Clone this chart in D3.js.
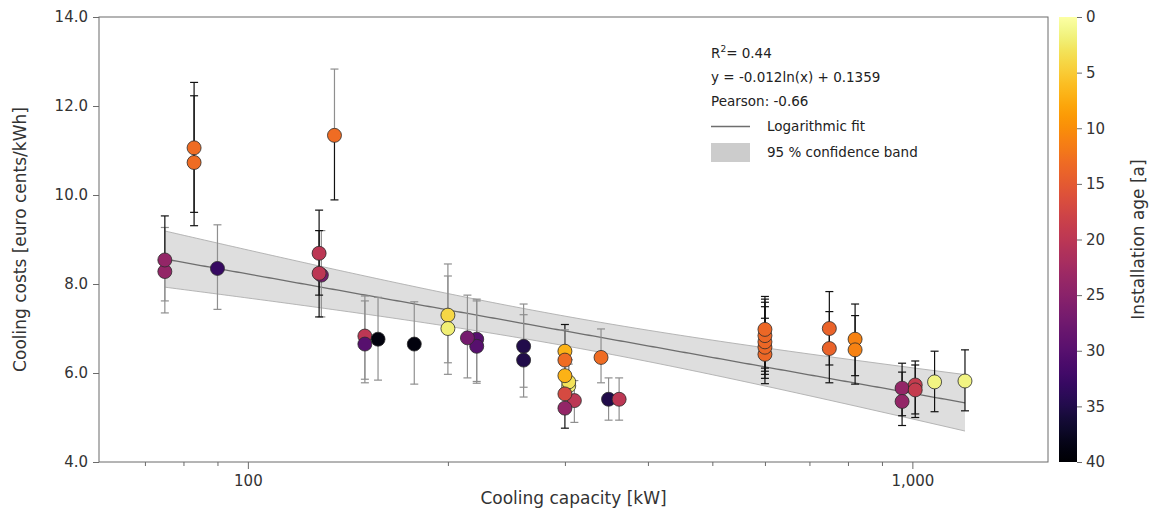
<!DOCTYPE html>
<html>
<head>
<meta charset="utf-8">
<script src="https://cdn.jsdelivr.net/npm/d3@7"></script>
<style>
  html, body { margin: 0; padding: 0; background: #fff; }
  svg { display: block; font-family: "DejaVu Sans", Verdana, sans-serif; }
</style>
</head>
<body>
<svg id="chart" width="1151" height="513"></svg>
<script>
// Cooling capacity of each installation [kW]
const capacity = [75, 75, 83, 83, 90, 129, 128, 128, 135, 150, 150, 157, 178, 200, 200,
  221, 221, 214, 260, 260, 300, 300, 304, 304, 300, 310, 300, 300, 340, 349, 362,
  600, 600, 600, 600, 600, 750, 750, 820, 820, 965, 965, 1010, 1010, 1080, 1200];
// Cooling costs [euro cents/kWh]
const cost = [8.28, 8.54, 11.06, 10.73, 8.35, 8.20, 8.24, 8.69, 11.34, 6.83, 6.65, 6.76, 6.65, 7.30, 7.00,
  6.76, 6.60, 6.79, 6.60, 6.29, 6.49, 6.29, 5.71, 5.80, 5.94, 5.38, 5.53, 5.21, 6.35, 5.41, 5.41,
  6.42, 6.58, 6.70, 6.84, 6.98, 7.00, 6.55, 6.76, 6.52, 5.66, 5.36, 5.73, 5.62, 5.80, 5.82];
// Upper and lower bounds of the cost estimate
const costHigh = [9.27, 9.53, 12.53, 12.23, 9.33, 9.20, 9.20, 9.66, 12.83, 7.73, 7.62, 7.70, 7.60, 8.45, 8.18,
  7.66, 7.62, 7.75, 7.55, 7.31, 7.09, 6.97, 6.20, 6.30, 6.44, 5.83, 6.00, 5.66, 6.99, 5.89, 5.89,
  7.23, 7.49, 7.59, 7.66, 7.72, 7.83, 7.38, 7.55, 7.29, 6.22, 6.02, 6.27, 6.18, 6.49, 6.52];
const costLow = [7.35, 7.62, 9.61, 9.31, 7.43, 7.26, 7.75, 7.26, 9.89, 5.86, 5.78, 5.84, 5.75, 6.23, 5.97,
  5.81, 5.77, 5.89, 5.68, 5.46, 5.90, 5.60, 5.25, 5.30, 5.44, 4.89, 5.08, 4.76, 5.78, 4.94, 4.94,
  5.76, 5.88, 5.97, 6.04, 6.11, 6.18, 5.78, 5.94, 5.75, 5.04, 4.82, 5.08, 5.00, 5.13, 5.15];
// Installation age [a]
const age = [24, 24, 13, 13, 33, 27, 20, 20, 13, 20, 30, 39, 39, 4, 2,
  30, 30, 27, 35, 35, 7, 13, 2, 3, 7, 20, 17, 24, 13, 35, 20,
  13.5, 13.5, 13.5, 13.5, 13.5, 14, 14, 11, 11, 24, 24, 19, 19, 1.5, 1.5];
// Source of the upper / lower bound: "A" = operator data, "B" = literature range
const upperSource = ["B","A","A","A","B","B","A","A","B","B","B","B","B","B","B",
  "B","B","B","B","B","A","B","B","B","B","B","B","B","B","B","B",
  "A","A","A","A","A","A","A","A","A","A","A","A","A","A","A"];
const lowerSource = ["B","B","A","A","B","B","A","A","A","B","B","B","B","B","B",
  "B","B","B","B","B","B","B","B","B","B","B","B","A","B","B","B",
  "A","A","A","A","A","A","A","A","A","A","A","A","A","A","A"];

// Logarithmic fit y = a*ln(x) + b in euro/kWh, and its statistics
const fitSlope = -0.01165;
const fitIntercept = 0.1359;
const rSquared = 0.44;
const pearson = -0.66;
// 95 % band half width (cents): sqrt(bandBase + bandSpread * (ln x - bandCenter)^2)
const bandBase = 0.111, bandSpread = 0.1505, bandCenter = 5.70;

const yTicks = [4, 6, 8, 10, 12, 14];
const xMajorTicks = [100, 1000];
const xMinorTicks = [70, 80, 90, 200, 300, 400, 500, 600, 700, 800, 900];
const ageTicks = [0, 5, 10, 15, 20, 25, 30, 35, 40];

const svg = d3.select("#chart");
const m = { left: 99, right: 1048, top: 17, bottom: 462 };

const x = d3.scaleLog().domain([59.7, 1600]).range([m.left, m.right]);
const y = d3.scaleLinear().domain([4, 14]).range([m.bottom, m.top]);
const color = a => d3.interpolateInferno(1 - a / 40);
const axisColor = "#6b6b6b", textColor = "#333";

// confidence band and fit line
const xMin = d3.min(capacity), xMax = d3.max(capacity);
const samples = d3.range(0, 201).map(i => Math.exp(Math.log(xMin) + (Math.log(xMax) - Math.log(xMin)) * i / 200));
const fitCents = v => 100 * (fitSlope * Math.log(v) + fitIntercept);
const halfWidth = v => Math.sqrt(bandBase + bandSpread * Math.pow(Math.log(v) - bandCenter, 2));

svg.append("path")
  .datum(samples)
  .attr("d", d3.area().x(d => x(d)).y0(d => y(fitCents(d) - halfWidth(d))).y1(d => y(fitCents(d) + halfWidth(d))))
  .attr("fill", "#dedede");
["lower", "upper"].forEach(side => {
  const s = side === "upper" ? 1 : -1;
  svg.append("path")
    .datum(samples)
    .attr("d", d3.line().x(d => x(d)).y(d => y(fitCents(d) + s * halfWidth(d))))
    .attr("fill", "none").attr("stroke", "#b5b5b5").attr("stroke-width", 1);
});
svg.append("path")
  .datum(samples)
  .attr("d", d3.line().x(d => x(d)).y(d => y(fitCents(d))))
  .attr("fill", "none").attr("stroke", "#6e6e6e").attr("stroke-width", 1.3);

// error bars
const idx = d3.range(capacity.length);
const barColor = src => src === "A" ? "#111" : "#8f8f8f";
const capW = 4;
const bars = svg.append("g");
idx.forEach(i => {
  const cx = x(capacity[i]);
  const parts = [
    { y0: y(cost[i]), y1: y(costHigh[i]), c: barColor(upperSource[i]) },
    { y0: y(cost[i]), y1: y(costLow[i]), c: barColor(lowerSource[i]) }
  ];
  parts.forEach(p => {
    bars.append("line").attr("x1", cx).attr("x2", cx).attr("y1", p.y0).attr("y2", p.y1)
      .attr("stroke", p.c).attr("stroke-width", 1.2);
    bars.append("line").attr("x1", cx - capW).attr("x2", cx + capW).attr("y1", p.y1).attr("y2", p.y1)
      .attr("stroke", p.c).attr("stroke-width", 1.2);
  });
});

// points
svg.append("g").selectAll("circle").data(idx).join("circle")
  .attr("cx", i => x(capacity[i]))
  .attr("cy", i => y(cost[i]))
  .attr("r", 7)
  .attr("fill", i => color(age[i]))
  .attr("stroke", "#2b2b2b").attr("stroke-width", 0.8);

// frame
svg.append("rect")
  .attr("x", m.left).attr("y", m.top)
  .attr("width", m.right - m.left).attr("height", m.bottom - m.top)
  .attr("fill", "none").attr("stroke", axisColor).attr("stroke-width", 1);

// y axis
const yAxis = svg.append("g").attr("transform", `translate(${m.left},0)`)
  .call(d3.axisLeft(y).tickValues(yTicks).tickFormat(d3.format(".1f")).tickSize(6).tickPadding(5));
yAxis.select(".domain").remove();
yAxis.selectAll("line").attr("stroke", axisColor);
yAxis.selectAll("text").attr("font-size", 15).attr("fill", textColor).attr("font-family", "DejaVu Sans");

// x axis: major and minor ticks
const xAxis = svg.append("g").attr("transform", `translate(0,${m.bottom})`)
  .call(d3.axisBottom(x).tickValues(xMajorTicks).tickFormat(d3.format(",")).tickSize(7).tickPadding(6));
xAxis.select(".domain").remove();
xAxis.selectAll("line").attr("stroke", axisColor);
xAxis.selectAll("text").attr("font-size", 15).attr("fill", textColor).attr("font-family", "DejaVu Sans");
const xMinor = svg.append("g").attr("transform", `translate(0,${m.bottom})`)
  .call(d3.axisBottom(x).tickValues(xMinorTicks).tickFormat("").tickSize(4));
xMinor.select(".domain").remove();
xMinor.selectAll("line").attr("stroke", axisColor);

// axis titles
svg.append("text")
  .attr("x", (m.left + m.right) / 2).attr("y", 504)
  .attr("text-anchor", "middle").attr("font-size", 17).attr("fill", textColor)
  .text("Cooling capacity [kW]");
svg.append("text")
  .attr("transform", `translate(26,${(m.top + m.bottom) / 2}) rotate(-90)`)
  .attr("text-anchor", "middle").attr("font-size", 17).attr("fill", textColor)
  .text("Cooling costs [euro cents/kWh]");

// statistics and legend
const leg = svg.append("g").attr("font-size", 13.5).attr("fill", "#222");
const r2 = leg.append("text").attr("x", 711).attr("y", 58);
r2.append("tspan").text("R");
r2.append("tspan").attr("dy", -6).attr("font-size", 9).text("2");
r2.append("tspan").attr("dy", 6).text("= " + rSquared.toFixed(2));
leg.append("text").attr("x", 711).attr("y", 82)
  .text(`y = ${fitSlope.toFixed(3)}ln(x) + ${fitIntercept.toFixed(4)}`);
leg.append("text").attr("x", 711).attr("y", 106).text(`Pearson: ${pearson.toFixed(2)}`);
leg.append("line").attr("x1", 711).attr("x2", 750).attr("y1", 126.5).attr("y2", 126.5)
  .attr("stroke", "#6e6e6e").attr("stroke-width", 1.3);
leg.append("text").attr("x", 767).attr("y", 131).text("Logarithmic fit");
leg.append("rect").attr("x", 711).attr("y", 143).attr("width", 39).attr("height", 19)
  .attr("fill", "#cccccc");
leg.append("text").attr("x", 767).attr("y", 157).text("95 % confidence band");

// colour bar
const cb = { x: 1059, w: 18 };
const ageScale = d3.scaleLinear().domain([0, 40]).range([m.top, m.bottom]);
const grad = svg.append("defs").append("linearGradient")
  .attr("id", "ageGrad").attr("x1", 0).attr("x2", 0).attr("y1", 0).attr("y2", 1);
d3.range(0, 41).forEach(k => {
  grad.append("stop").attr("offset", k / 40).attr("stop-color", color(k));
});
svg.append("rect")
  .attr("x", cb.x).attr("y", m.top).attr("width", cb.w).attr("height", m.bottom - m.top)
  .attr("fill", "url(#ageGrad)");
const cAxis = svg.append("g").attr("transform", `translate(${cb.x + cb.w},0)`)
  .call(d3.axisRight(ageScale).tickValues(ageTicks).tickSize(5).tickPadding(4));
cAxis.select(".domain").remove();
cAxis.selectAll("line").attr("stroke", axisColor);
cAxis.selectAll("text").attr("font-size", 15).attr("fill", textColor).attr("font-family", "DejaVu Sans");
svg.append("text")
  .attr("transform", `translate(1144,${(m.top + m.bottom) / 2}) rotate(-90)`)
  .attr("text-anchor", "middle").attr("font-size", 17).attr("fill", textColor)
  .text("Installation age [a]");
</script>
</body>
</html>
